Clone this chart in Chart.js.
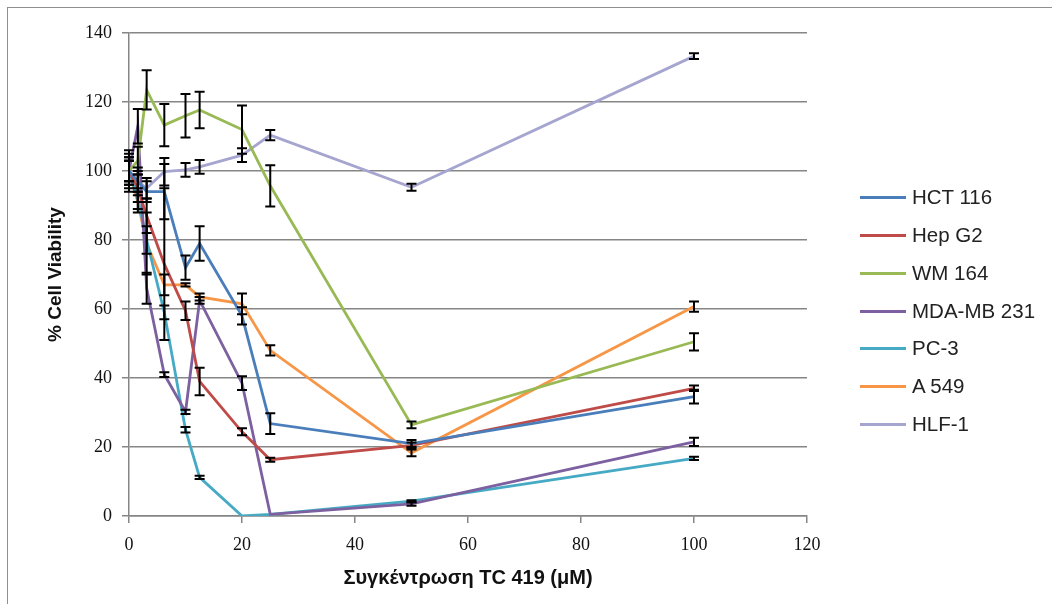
<!DOCTYPE html>
<html>
<head>
<meta charset="utf-8">
<script src="https://cdn.jsdelivr.net/npm/chart.js@4"></script>
<style>
  html, body { margin: 0; padding: 0; background: #fff; }
  #wrap { position: relative; width: 1052px; height: 604px; overflow: hidden; }
  #frame { position: absolute; left: 7px; top: 7px; width: 1100px; height: 700px; border: 1px solid #8f8f8f; }
  canvas { position: absolute; left: 0; top: 0; }
  #legend { position: absolute; left: 860px; top: 0; font-family: "Liberation Sans", Arial, sans-serif; font-size: 20.5px; color: #222; }
  .item { position: absolute; left: 0; height: 26px; white-space: nowrap; display: flex; align-items: center; }
  .sw { width: 46px; height: 3px; margin-right: 6px; }
</style>
</head>
<body>
<div id="wrap">
  <div id="frame"></div>
  <canvas id="c" width="1052" height="604"></canvas>
  <div id="legend"></div>
</div>
<script>
// Concentrations (µM)
const concentrations = [0, 1.5625, 3.125, 6.25, 10, 12.5, 20, 25, 50, 100];

// Series names & colours
const seriesNames = ["HCT 116", "Hep G2", "WM 164", "MDA-MB 231", "PC-3", "A 549", "HLF-1"];
const seriesColors = ["#4A7EBB", "#BE4B48", "#98B954", "#7D60A0", "#46AAC5", "#F79646", "#A6A5D0"];

// % Cell viability values
const hct116 = [100, 97, 94, 94, 72, 79, 58, 26.8, 21, 34.6];
const hepG2  = [100, 95, 87, 73, 59.5, 39, 24.4, 16.3, 20.5, 37];
const wm164  = [100, 103, 123.5, 113.3, 116, 117.7, 112, 95.7, 26.4, 50.5];
const mdaMb231 = [100, 113, 66, 41, 30.2, 62.5, 38.5, 0.5, 3.5, 21.5];
const pc3    = [100, 92, 80, 59, 25, 11.2, 0, 0.5, 4.3, 16.7];
const a549   = [100, 91, 79, 67, 67, 63.5, 61.5, 48, 18.3, 60.7];
const hlf1   = [100, 97, 95, 99.8, 100.3, 101.2, 104.6, 110.4, 95.3, 133.3];

// Error bar half-widths
const hct116Err = [6, 4, 3, 8, 3.5, 5, 2.5, 3, 1, 2];
const hepG2Err  = [3, 4, 5, 22, 2.7, 4, 1, 0.6, 0.8, 0.8];
const wm164Err  = [5, 4, 5.7, 6.1, 6.3, 5.3, 7, 6, 1, 2.5];
const mdaMb231Err = [4, 5, 4.5, 0.7, 0.6, 1, 2, 0, 0.5, 1.2];
const pc3Err    = [3, 3, 4, 2, 0.8, 0.5, 0, 0, 0.3, 0.5];
const a549Err   = [3, 3, 9, 3, 0.5, 1, 3, 1.5, 1, 1.5];
const hlf1Err   = [4, 3, 3, 4, 2, 2, 2, 1.5, 1, 0.8];

// Axis ticks
const xMin = 0, xMax = 120, xStep = 20;
const yMin = 0, yMax = 140, yStep = 20;

const seriesValues = [hct116, hepG2, wm164, mdaMb231, pc3, a549, hlf1];
const seriesErrors = [hct116Err, hepG2Err, wm164Err, mdaMb231Err, pc3Err, a549Err, hlf1Err];

const datasets = seriesNames.map((name, i) => ({
  label: name,
  data: concentrations.map((x, j) => ({ x: x, y: seriesValues[i][j] })),
  errors: seriesErrors[i],
  borderColor: seriesColors[i],
  backgroundColor: seriesColors[i],
  borderWidth: 2.8,
  showLine: true,
  pointRadius: 0,
  tension: 0
}));

const errorBars = {
  id: 'errorBars',
  afterDatasetsDraw(chart) {
    const ctx = chart.ctx;
    const xs = chart.scales.x, ys = chart.scales.y;
    ctx.save();
    ctx.strokeStyle = '#000';
    ctx.lineWidth = 2;
    chart.data.datasets.forEach(ds => {
      ds.data.forEach((p, j) => {
        const e = ds.errors[j];
        if (!e) return;
        const px = xs.getPixelForValue(p.x);
        const yt = ys.getPixelForValue(p.y + e);
        const yb = ys.getPixelForValue(Math.max(0, p.y - e));
        ctx.beginPath();
        ctx.moveTo(px, yt); ctx.lineTo(px, yb);
        ctx.moveTo(px - 5, yt); ctx.lineTo(px + 5, yt);
        ctx.moveTo(px - 5, yb); ctx.lineTo(px + 5, yb);
        ctx.stroke();
      });
    });
    ctx.restore();
  }
};

const tickFont = { family: "'Liberation Serif', serif", size: 18 };
const xTitleFont = { family: "'Liberation Sans', Arial, sans-serif", size: 20, weight: 'bold' };
const yTitleFont = { family: "'Liberation Sans', Arial, sans-serif", size: 19, weight: 'bold' };

new Chart(document.getElementById('c'), {
  type: 'scatter',
  data: { datasets },
  options: {
    responsive: false,
    animation: false,
    layout: { padding: { left: 0, right: 245, top: 33, bottom: 0 } },
    plugins: { legend: { display: false }, tooltip: { enabled: false } },
    scales: {
      x: {
        type: 'linear', min: xMin, max: xMax,
        ticks: { stepSize: xStep, font: tickFont, color: '#111', padding: 11 },
        grid: { drawOnChartArea: false, drawTicks: true, tickLength: 7, color: '#868686', lineWidth: 1.5 },
        border: { display: true, color: '#868686', width: 1.5 },
        title: { display: true, text: 'Συγκέντρωση TC 419 (μM)', font: xTitleFont, color: '#111', padding: { top: 0, bottom: 14 } },
        afterFit(scale) { scale.height = 88; }
      },
      y: {
        type: 'linear', min: yMin, max: yMax,
        ticks: { stepSize: yStep, font: tickFont, color: '#111', padding: 10 },
        grid: { drawTicks: true, tickLength: 7, color: '#868686', lineWidth: 1.5 },
        border: { display: true, color: '#868686', width: 1.5 },
        title: { display: true, text: '% Cell Viability', font: yTitleFont, color: '#111', padding: { top: 44, bottom: 0 } },
        afterFit(scale) { scale.width = 129; }
      }
    }
  },
  plugins: [errorBars]
});

// Legend
const legendTops = [197, 235, 273, 311, 348, 386, 424];
const lg = document.getElementById('legend');
seriesNames.forEach((name, i) => {
  const d = document.createElement('div');
  d.className = 'item';
  d.style.top = (legendTops[i] - 13) + 'px';
  d.innerHTML = '<span class="sw" style="background:' + seriesColors[i] + '"></span><span>' + name + '</span>';
  lg.appendChild(d);
});
</script>
</body>
</html>
